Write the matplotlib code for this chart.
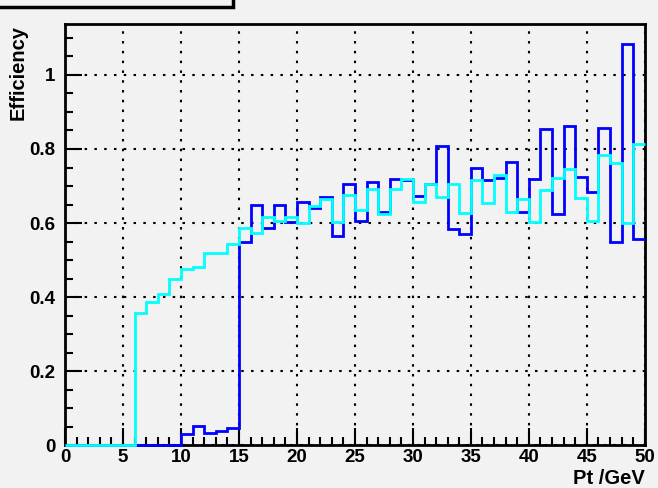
#效率直方图
import matplotlib.pyplot as plt
import numpy as np

plt.rcParams['font.family'] = ['Liberation Sans', 'DejaVu Sans']
plt.rcParams['font.weight'] = 'bold'

#构建数据 (1 GeV 一个 bin, 0-50)
edges = np.arange(0, 51, 1)
eff_blue = [0, 0, 0, 0, 0, 0, 0, 0, 0, 0,
            0.029, 0.051, 0.033, 0.037, 0.045, 0.549, 0.649, 0.586, 0.649, 0.603,
            0.658, 0.640, 0.671, 0.566, 0.705, 0.605, 0.710, 0.630, 0.719, 0.716,
            0.674, 0.705, 0.808, 0.583, 0.569, 0.748, 0.716, 0.722, 0.766, 0.631,
            0.719, 0.854, 0.624, 0.862, 0.725, 0.685, 0.856, 0.548, 1.084, 0.557]
eff_cyan = [0, 0, 0, 0, 0, 0, 0.357, 0.387, 0.408, 0.450,
            0.476, 0.480, 0.518, 0.518, 0.542, 0.587, 0.572, 0.616, 0.606, 0.615,
            0.601, 0.646, 0.665, 0.604, 0.676, 0.635, 0.692, 0.624, 0.692, 0.719,
            0.656, 0.705, 0.671, 0.705, 0.628, 0.716, 0.653, 0.730, 0.629, 0.665,
            0.604, 0.689, 0.722, 0.747, 0.667, 0.605, 0.784, 0.763, 0.599, 0.814]

bg = '#f2f2f2'
fig = plt.figure(figsize=(6.58, 4.88), dpi=100, facecolor=bg)
ax = fig.add_axes([0.0988, 0.088, 0.8812, 0.863], facecolor=bg)

#绘图
ax.stairs(eff_blue, edges, baseline=None, color='#0000ff', linewidth=2,
          clip_on=False, zorder=3)
ax.stairs(eff_cyan, edges, baseline=None, color='#00ffff', linewidth=2,
          clip_on=False, zorder=3.1)

ax.set_xlim(0, 50)
ax.set_ylim(0, 1.138)
ax.set_xticks(np.arange(0, 51, 5))
ax.set_xticks(np.arange(0, 51, 1), minor=True)
ax.set_yticks(np.arange(0, 1.01, 0.2))
ax.set_yticks(np.arange(0, 1.13, 0.05), minor=True)
ax.set_xticklabels([str(v) for v in range(0, 51, 5)])
ax.set_yticklabels(['0', '0.2', '0.4', '0.6', '0.8', '1'])
ax.tick_params(axis='both', which='major', direction='in', length=12, width=1.5,
               labelsize=13.5, top=False, right=False)
ax.tick_params(axis='both', which='minor', direction='in', length=6, width=1.5,
               top=False, right=False)
ax.tick_params(axis='x', pad=3)
ax.tick_params(axis='y', pad=7)
for lab in ax.get_xticklabels() + ax.get_yticklabels():
    lab.set_fontweight('bold')

ax.grid(True, which='major', color='black', linestyle=(0, (1.2, 3.5)), linewidth=1.5)
for sp in ax.spines.values():
    sp.set_linewidth(2)
    sp.set_color('black')

#坐标名称
fig.text(645 / 658, 1 - 478 / 488, 'Pt /GeV', fontsize=14.5, fontweight='bold',
         ha='right', va='center')
fig.text(18 / 658, 1 - 25 / 488, 'Efficiency', fontsize=14.5, fontweight='bold',
         rotation=90, ha='center', va='top')

#左上角标题框
fig.patches.append(plt.Rectangle((-0.01, 0.985), 0.364, 0.03, transform=fig.transFigure,
                                 facecolor=bg, edgecolor='black', linewidth=2.5,
                                 clip_on=False))

fig.savefig('out.png', dpi=100, facecolor=bg)
